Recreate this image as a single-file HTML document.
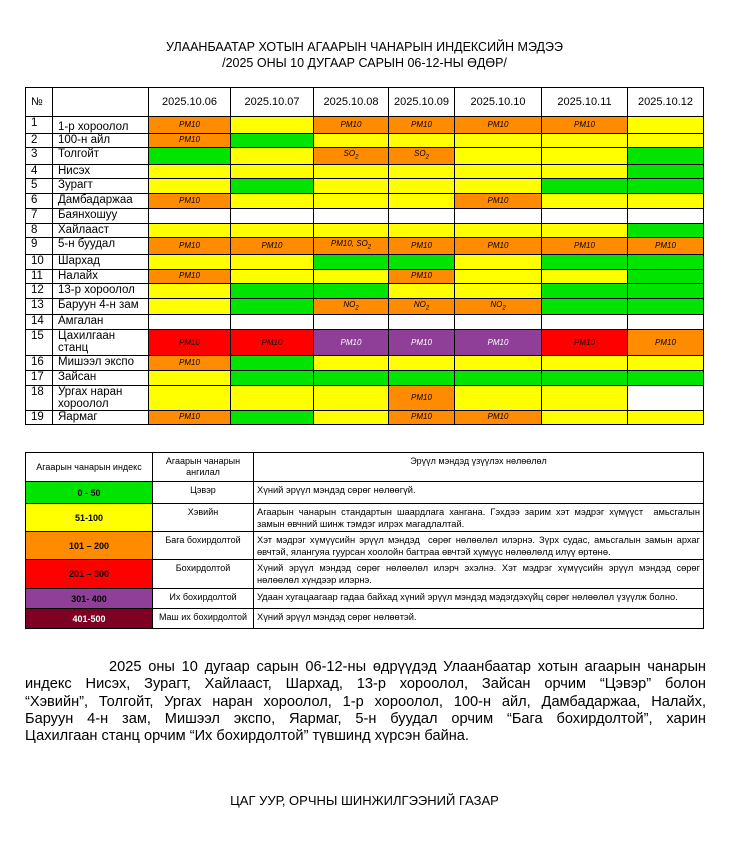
<!DOCTYPE html>
<html><head><meta charset="utf-8">
<style>
body{margin:0;width:729px;height:848px;background:#fff;font-family:"Liberation Sans",Arial,sans-serif;color:#000;position:relative}
.t{position:absolute;left:0;width:729px;text-align:center;font-size:12.5px}
table{border-collapse:collapse;position:absolute;table-layout:fixed}
td{border:1px solid #000;padding:0;overflow:hidden;white-space:nowrap}
#m{left:25px;top:87px;width:678px}
#m td{font-size:11.5px;height:13.7px;line-height:12px}
#m td.n{padding-left:5px;vertical-align:top}
#m td.c{text-align:center;font-style:italic;font-size:8px}
#m tr.h td{height:28px;text-align:center;font-size:11px;font-style:normal}
.O{background:#ff8c00}.Y{background:#ffff00}.G{background:#00e400}.R{background:#ff0000}.P{background:#8f3f97;color:#fff}.W{background:#fff}
sub{font-size:6px}
#l{left:25px;top:452px;width:678px}
#l td{font-size:9px;text-align:center;vertical-align:top;padding-top:3px}
#l td.d{text-align:justify;padding:2px 3px 0 3px;white-space:normal;line-height:12px;font-size:9.3px}
#l td.i{font-weight:bold;vertical-align:middle;padding-top:0}
.p{position:absolute;left:25px;top:659px;width:681px;font-size:14.6px;line-height:17.3px}
.p div{text-align:justify;text-align-last:justify;white-space:nowrap}
</style></head><body>
<div class="t" style="top:40px">УЛААНБААТАР ХОТЫН АГААРЫН ЧАНАРЫН ИНДЕКСИЙН МЭДЭЭ</div>
<div class="t" style="top:56px">/2025 ОНЫ 10 ДУГААР САРЫН 06-12-НЫ ӨДӨР/</div>
<table id="m">
<colgroup><col style="width:27px"><col style="width:96px"><col style="width:82px"><col style="width:83px"><col style="width:75px"><col style="width:66px"><col style="width:87px"><col style="width:86px"><col style="width:76px"></colgroup>
<tr class="h"><td style="text-align:left;padding-left:5px">№</td><td></td><td>2025.10.06</td><td>2025.10.07</td><td>2025.10.08</td><td>2025.10.09</td><td>2025.10.10</td><td>2025.10.11</td><td>2025.10.12</td></tr>
<tr><td class="n" style="height:15.5px">1</td><td class="n" style="vertical-align:bottom">1-р хороолол</td><td class="c O">PM10</td><td class="c Y"></td><td class="c O">PM10</td><td class="c O">PM10</td><td class="c O">PM10</td><td class="c O">PM10</td><td class="c Y"></td></tr>
<tr><td class="n">2</td><td class="n">100-н айл</td><td class="c O">PM10</td><td class="c G"></td><td class="c Y"></td><td class="c Y"></td><td class="c Y"></td><td class="c Y"></td><td class="c Y"></td></tr>
<tr><td class="n">3</td><td class="n">Толгойт</td><td class="c G"></td><td class="c Y"></td><td class="c O">SO<sub>2</sub></td><td class="c O">SO<sub>2</sub></td><td class="c Y"></td><td class="c Y"></td><td class="c G"></td></tr>
<tr><td class="n">4</td><td class="n">Нисэх</td><td class="c Y"></td><td class="c Y"></td><td class="c Y"></td><td class="c Y"></td><td class="c Y"></td><td class="c Y"></td><td class="c G"></td></tr>
<tr><td class="n">5</td><td class="n">Зурагт</td><td class="c Y"></td><td class="c G"></td><td class="c Y"></td><td class="c Y"></td><td class="c Y"></td><td class="c G"></td><td class="c G"></td></tr>
<tr><td class="n">6</td><td class="n">Дамбадаржаа</td><td class="c O">PM10</td><td class="c Y"></td><td class="c Y"></td><td class="c Y"></td><td class="c O">PM10</td><td class="c Y"></td><td class="c Y"></td></tr>
<tr><td class="n">7</td><td class="n">Баянхошуу</td><td class="c W"></td><td class="c W"></td><td class="c W"></td><td class="c W"></td><td class="c W"></td><td class="c W"></td><td class="c W"></td></tr>
<tr><td class="n">8</td><td class="n">Хайлааст</td><td class="c Y"></td><td class="c Y"></td><td class="c Y"></td><td class="c Y"></td><td class="c Y"></td><td class="c Y"></td><td class="c G"></td></tr>
<tr><td class="n">9</td><td class="n">5-н буудал</td><td class="c O">PM10</td><td class="c O">PM10</td><td class="c O">PM10, SO<sub>2</sub></td><td class="c O">PM10</td><td class="c O">PM10</td><td class="c O">PM10</td><td class="c O">PM10</td></tr>
<tr><td class="n">10</td><td class="n">Шархад</td><td class="c Y"></td><td class="c Y"></td><td class="c G"></td><td class="c G"></td><td class="c Y"></td><td class="c G"></td><td class="c G"></td></tr>
<tr><td class="n">11</td><td class="n">Налайх</td><td class="c O">PM10</td><td class="c Y"></td><td class="c Y"></td><td class="c O">PM10</td><td class="c Y"></td><td class="c Y"></td><td class="c G"></td></tr>
<tr><td class="n">12</td><td class="n">13-р хороолол</td><td class="c Y"></td><td class="c G"></td><td class="c G"></td><td class="c Y"></td><td class="c Y"></td><td class="c G"></td><td class="c G"></td></tr>
<tr><td class="n">13</td><td class="n">Баруун 4-н зам</td><td class="c Y"></td><td class="c G"></td><td class="c O">NO<sub>2</sub></td><td class="c O">NO<sub>2</sub></td><td class="c O">NO<sub>2</sub></td><td class="c G"></td><td class="c G"></td></tr>
<tr><td class="n">14</td><td class="n">Амгалан</td><td class="c W"></td><td class="c W"></td><td class="c W"></td><td class="c W"></td><td class="c W"></td><td class="c W"></td><td class="c W"></td></tr>
<tr><td class="n" style="height:25px">15</td><td class="n" style="white-space:normal;line-height:12px">Цахилгаан<br>станц</td><td class="c R">PM10</td><td class="c R">PM10</td><td class="c P">PM10</td><td class="c P">PM10</td><td class="c P">PM10</td><td class="c R">PM10</td><td class="c O">PM10</td></tr>
<tr><td class="n">16</td><td class="n">Мишээл экспо</td><td class="c O">PM10</td><td class="c G"></td><td class="c Y"></td><td class="c Y"></td><td class="c Y"></td><td class="c Y"></td><td class="c Y"></td></tr>
<tr><td class="n">17</td><td class="n">Зайсан</td><td class="c Y"></td><td class="c G"></td><td class="c G"></td><td class="c G"></td><td class="c G"></td><td class="c G"></td><td class="c G"></td></tr>
<tr><td class="n" style="height:24px">18</td><td class="n" style="white-space:normal;line-height:12px">Ургах наран<br>хороолол</td><td class="c Y"></td><td class="c Y"></td><td class="c Y"></td><td class="c O">PM10</td><td class="c Y"></td><td class="c Y"></td><td class="c W"></td></tr>
<tr><td class="n">19</td><td class="n">Яармаг</td><td class="c O">PM10</td><td class="c G"></td><td class="c Y"></td><td class="c O">PM10</td><td class="c O">PM10</td><td class="c Y"></td><td class="c Y"></td></tr>
</table>
<table id="l">
<colgroup><col style="width:127px"><col style="width:101px"><col style="width:450px"></colgroup>
<tr style="height:29px"><td style="vertical-align:middle;padding-top:0">Агаарын чанарын индекс</td><td style="white-space:normal;line-height:11px">Агаарын чанарын ангилал</td><td>Эрүүл мэндэд үзүүлэх нөлөөлөл</td></tr>
<tr style="height:22px"><td class="i G">0 - 50</td><td>Цэвэр</td><td class="d">Хүний эрүүл мэндэд сөрөг нөлөөгүй.</td></tr>
<tr style="height:28px"><td class="i Y">51-100</td><td>Хэвийн</td><td class="d">Агаарын чанарын стандартын шаардлага хангана. Гэхдээ зарим хэт мэдрэг хүмүүст&nbsp; амьсгалын замын өвчний шинж тэмдэг илрэх магадлалтай.</td></tr>
<tr style="height:28px"><td class="i O">101 – 200</td><td>Бага бохирдолтой</td><td class="d">Хэт мэдрэг хүмүүсийн эрүүл мэндэд&nbsp; сөрөг нөлөөлөл илэрнэ. Зүрх судас, амьсгалын замын архаг өвчтэй, ялангуяа гуурсан хоолойн багтраа өвчтэй хүмүүс нөлөөлөлд илүү өртөнө.</td></tr>
<tr style="height:29px"><td class="i R">201 – 300</td><td>Бохирдолтой</td><td class="d">Хүний эрүүл мэндэд сөрөг нөлөөлөл илэрч эхэлнэ. Хэт мэдрэг хүмүүсийн эрүүл мэндэд сөрөг нөлөөлөл хүндээр илэрнэ.</td></tr>
<tr style="height:20px"><td class="i P" style="color:#000">301- 400</td><td>Их бохирдолтой</td><td class="d">Удаан хугацаагаар гадаа байхад хүний эрүүл мэндэд мэдэгдэхүйц сөрөг нөлөөлөл үзүүлж болно.</td></tr>
<tr style="height:20px"><td class="i" style="background:#7e0023;color:#fff">401-500</td><td>Маш их бохирдолтой</td><td class="d">Хүний эрүүл мэндэд сөрөг нөлөөтэй.</td></tr>
</table>
<div class="p">
<div style="padding-left:84px">2025 оны 10 дугаар сарын 06-12-ны өдрүүдэд Улаанбаатар хотын агаарын чанарын</div>
<div>индекс Нисэх, Зурагт, Хайлааст, Шархад, 13-р хороолол, Зайсан орчим “Цэвэр” болон</div>
<div>“Хэвийн”, Толгойт, Ургах наран хороолол, 1-р хороолол, 100-н айл, Дамбадаржаа, Налайх,</div>
<div>Баруун 4-н зам, Мишээл экспо, Яармаг, 5-н буудал орчим “Бага бохирдолтой”, харин</div>
<div style="text-align-last:left">Цахилгаан станц орчим “Их бохирдолтой” түвшинд хүрсэн байна.</div>
</div>
<div class="t" style="top:793px;font-size:13px">ЦАГ УУР, ОРЧНЫ ШИНЖИЛГЭЭНИЙ ГАЗАР</div>
</body></html>
